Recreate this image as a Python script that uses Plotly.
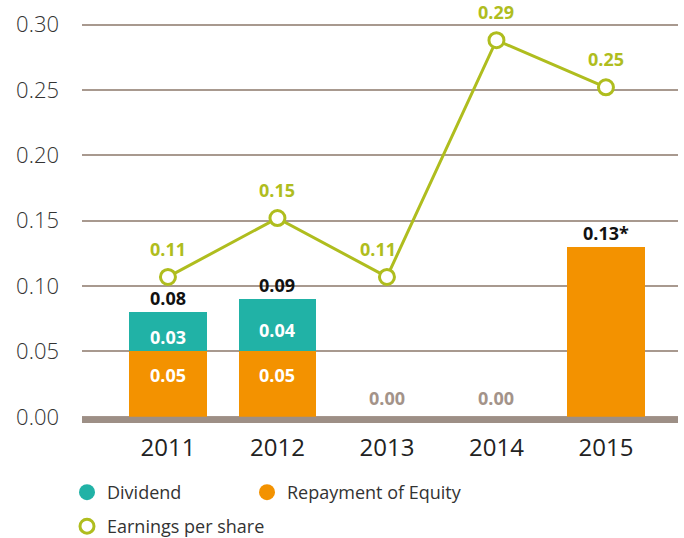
import plotly.graph_objects as go

years = ["2011", "2012", "2013", "2014", "2015"]
repayment = [0.05, 0.05, 0.0, 0.0, 0.13]
dividend = [0.03, 0.04, 0.0, 0.0, 0.0]
eps = [0.107, 0.152, 0.107, 0.288, 0.252]

repay_labels = ["0.05", "0.05", "", "", ""]
div_labels = ["0.03", "0.04", "", "", ""]
total_labels = ["0.08", "0.09", "0.00", "0.00", "0.13*"]
eps_labels = ["0.11", "0.15", "0.11", "0.29", "0.25"]
y_ticks = [0.0, 0.05, 0.10, 0.15, 0.20, 0.25, 0.30]

TEAL = "#21b2a6"
ORANGE = "#f39200"
OLIVE = "#afbd1e"
GRID = "#a8998f"
BASE = "#9d8f86"
GREYLBL = "#a39389"
FONT = "Open Sans"

BASE_DEPTH = 0.0047  # thickness of the base band below zero, in data units
# small label nudges (style) so EPS labels clear the rising line
eps_label_xshift = [0, 0, -9, 0, 0]

fig = go.Figure()

fig.add_trace(go.Bar(x=years, y=repayment, marker=dict(color=ORANGE, line=dict(width=0)),
                     width=0.71, showlegend=False, hoverinfo="skip"))
fig.add_trace(go.Bar(x=years, y=dividend, marker=dict(color=TEAL, line=dict(width=0)),
                     width=0.71, showlegend=False, hoverinfo="skip"))
fig.add_trace(go.Scatter(x=years, y=eps, mode="lines+markers", showlegend=False,
                         line=dict(color=OLIVE, width=3),
                         marker=dict(symbol="circle", size=15, color="white",
                                     line=dict(color=OLIVE, width=3)),
                         cliponaxis=False, hoverinfo="skip"))

# legend-only traces
fig.add_trace(go.Scatter(x=[None], y=[None], mode="markers", name="Dividend",
                         marker=dict(symbol="circle", size=16, color=TEAL),
                         legend="legend"))
fig.add_trace(go.Scatter(x=[None], y=[None], mode="markers", name="Repayment of Equity",
                         marker=dict(symbol="circle", size=16, color=ORANGE),
                         legend="legend3"))
fig.add_trace(go.Scatter(x=[None], y=[None], mode="markers", name="Earnings per share",
                         marker=dict(symbol="circle", size=14, color="white",
                                     line=dict(color=OLIVE, width=3)),
                         legend="legend2"))

ann = []
for i, yr in enumerate(years):
    if repay_labels[i]:
        ann.append(dict(x=i, y=repayment[i] / 2, text="<b>" + repay_labels[i] + "</b>",
                        showarrow=False, yanchor="middle", yshift=9,
                        font=dict(family=FONT, size=18, color="white")))
    if div_labels[i]:
        ann.append(dict(x=i, y=repayment[i] + dividend[i] / 2,
                        text="<b>" + div_labels[i] + "</b>",
                        showarrow=False, yanchor="middle", yshift=-5,
                        font=dict(family=FONT, size=18, color="white")))
    total = repayment[i] + dividend[i]
    ann.append(dict(x=i, y=total, text="<b>" + total_labels[i] + "</b>", showarrow=False,
                    yanchor="middle", yshift=14 if total > 0 else 19,
                    font=dict(family=FONT, size=18,
                              color="#111111" if total > 0 else GREYLBL)))
    ann.append(dict(x=i, y=eps[i], text="<b>" + eps_labels[i] + "</b>", showarrow=False,
                    yanchor="middle", yshift=28, xshift=eps_label_xshift[i],
                    font=dict(family=FONT, size=18, color=OLIVE)))

leg_common = dict(orientation="h", xref="container", yref="container",
                  xanchor="left", yanchor="top",
                  font=dict(family=FONT, size=18, color="#333333"),
                  bgcolor="rgba(0,0,0,0)")

fig.update_layout(
    width=684, height=538,
    margin=dict(l=82, r=6, t=18, b=115),
    paper_bgcolor="white", plot_bgcolor="white",
    barmode="stack",
    annotations=ann,
    font=dict(family=FONT, color="#333333"),
    shapes=[dict(type="rect", xref="paper", x0=0, x1=1, yref="y",
                 y0=-BASE_DEPTH, y1=0,
                 fillcolor=BASE, line=dict(width=0), layer="above")],
    xaxis=dict(type="category", range=[-0.785, 4.658], showgrid=False,
               showline=False, zeroline=False, ticks="",
               tickfont=dict(family=FONT, size=24, color="#222222"),
               ticklabelstandoff=8),
    yaxis=dict(range=[-BASE_DEPTH, 0.305], tickvals=y_ticks, tickformat=".2f",
               showgrid=True, gridcolor=GRID, gridwidth=1.5,
               zeroline=False, showline=False, ticks="",
               tickfont=dict(family=FONT, size=22, color="#333333", weight=300),
               ticklabelstandoff=22),
    legend=dict(leg_common, x=67 / 684, y=1 - 474 / 538),
    legend3=dict(leg_common, x=247 / 684, y=1 - 474 / 538),
    legend2=dict(leg_common, x=67 / 684, y=1 - 508 / 538),
)

fig.write_html("out.html", config={"displayModeBar": False},
               post_script="document.body.style.margin='0px';")
